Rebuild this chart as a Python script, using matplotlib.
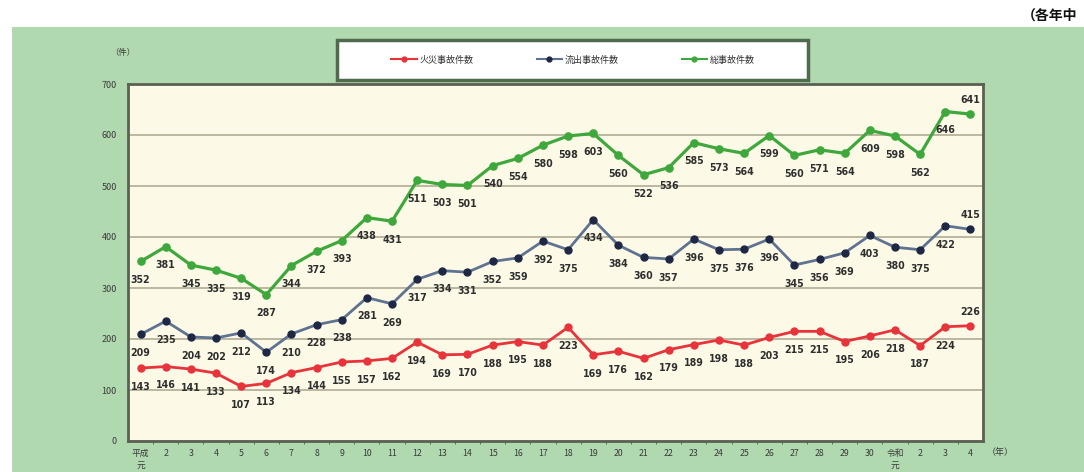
import matplotlib
matplotlib.use("Agg")
import matplotlib.pyplot as plt
from matplotlib.patches import Rectangle
from matplotlib.lines import Line2D
from matplotlib import font_manager as fm

plt.rcParams['font.family'] = ['Noto Sans CJK JP', 'DejaVu Sans']

# ---- data ----
years = ["平成\n元", "2", "3", "4", "5", "6", "7", "8", "9", "10", "11", "12", "13", "14",
         "15", "16", "17", "18", "19", "20", "21", "22", "23", "24", "25", "26", "27", "28",
         "29", "30", "令和\n元", "2", "3", "4"]
fire = [143, 146, 141, 133, 107, 113, 134, 144, 155, 157, 162, 194, 169, 170, 188, 195, 188,
        223, 169, 176, 162, 179, 189, 198, 188, 203, 215, 215, 195, 206, 218, 187, 224, 226]
leak = [209, 235, 204, 202, 212, 174, 210, 228, 238, 281, 269, 317, 334, 331, 352, 359, 392,
        375, 434, 384, 360, 357, 396, 375, 376, 396, 345, 356, 369, 403, 380, 375, 422, 415]
total = [352, 381, 345, 335, 319, 287, 344, 372, 393, 438, 431, 511, 503, 501, 540, 554, 580,
         598, 603, 560, 522, 536, 585, 573, 564, 599, 560, 571, 564, 609, 598, 562, 646, 641]
series_names = ["火災事故件数", "流出事故件数", "総事故件数"]
yticks = [0, 100, 200, 300, 400, 500, 600, 700]

# label font (narrow if available)
names = {f.name for f in fm.fontManager.ttflist}
if "Liberation Sans Narrow" in names:
    lab_font = dict(family="Liberation Sans Narrow", fontsize=9, weight="bold")
else:
    lab_font = dict(family="DejaVu Sans", fontsize=7.6, stretch="condensed", weight="semibold")

W, H = 1084, 472
fig = plt.figure(figsize=(W / 100, H / 100), dpi=100, facecolor="white")

# green background panel
fig.patches.append(Rectangle((12 / W, 0), 1 - 12 / W, 1 - 27 / H, transform=fig.transFigure,
                             facecolor="#B1D9B0", edgecolor="none", zorder=-10))

ax = fig.add_axes([128 / W, 31 / H, 855 / W, 357 / H])
ax.set_zorder(1)
ax.set_facecolor("#FCFAE7")
x = list(range(len(years)))

red, blue_line, blue_mk, green = "#E8333B", "#5F7391", "#1E2845", "#3FA83C"

ax.plot(x, fire, color=red, lw=2.0, marker="o", ms=5, mfc=red, mec=red, zorder=3)
ax.plot(x, leak, color=blue_line, lw=2.0, marker="o", ms=5, mfc=blue_mk, mec=blue_mk, zorder=3)
ax.plot(x, total, color=green, lw=2.3, marker="o", ms=5.2, mfc=green, mec=green, zorder=3)

for vals in (fire, leak, total):
    n = len(vals)
    for i, v in enumerate(vals):
        dy = 10 if i == n - 1 else -13.5
        ax.annotate(str(v), (i, v), xytext=(0, dy), textcoords="offset points",
                    ha="center", va="center", color="#2E2E2E", zorder=4, **lab_font)

ax.set_xlim(-0.5, len(years) - 0.5)
ax.set_ylim(0, 700)
ax.set_yticks(yticks)
ax.set_yticklabels([str(t) for t in yticks], fontsize=6.5, color="#3A3A3A")
ax.set_xticks(x)
ax.set_xticklabels(years, fontsize=6.3, color="#3A3A3A", linespacing=1.4, va="top")
ax.set_xticks([i + 0.5 for i in x[:-1]], minor=True)
ax.tick_params(axis="x", which="major", length=0, pad=6)
ax.tick_params(axis="x", which="minor", length=2, color="#555555")
ax.tick_params(axis="y", length=0, pad=8)
ax.grid(axis="y", color="#A9A58C", lw=1.1, zorder=1)
ax.set_axisbelow(True)
for s in ax.spines.values():
    s.set_color("#5B6152")
    s.set_linewidth(2)

# axis unit labels
fig.text(123 / W, 1 - 53 / H, "（件）", fontsize=6, color="#3A3A3A", ha="center", va="center")
fig.text(1000 / W, 1 - 452 / H, "（年）", fontsize=6.5, color="#3A3A3A", ha="center", va="center")
fig.text(1022 / W, 1 - 16 / H, "（各年中", fontsize=10, color="#111111", ha="left",
         va="center", weight="bold")

# legend box
fig.patches.append(Rectangle((337 / W, 1 - 80 / H), 471 / W, 40 / H, transform=fig.transFigure,
                             facecolor="white", edgecolor="#4F6A4C", lw=2.5, zorder=5))
handles = [
    Line2D([], [], color=red, lw=1.5, marker="o", ms=3.5, mfc=red, mec=red),
    Line2D([], [], color=blue_line, lw=1.5, marker="o", ms=3.5, mfc=blue_mk, mec=blue_mk),
    Line2D([], [], color=green, lw=1.5, marker="o", ms=3.5, mfc=green, mec=green),
]
leg = fig.legend(handles, series_names, loc="center", bbox_to_anchor=(573 / W, 1 - 60 / H),
                 ncol=3, frameon=False, fontsize=6.5, handlelength=2.8, handletextpad=0.3,
                 columnspacing=7.0)
leg.set_zorder(6)
for t in leg.get_texts():
    t.set_color("#333333")

fig.savefig("out.png", dpi=100, facecolor="white")
